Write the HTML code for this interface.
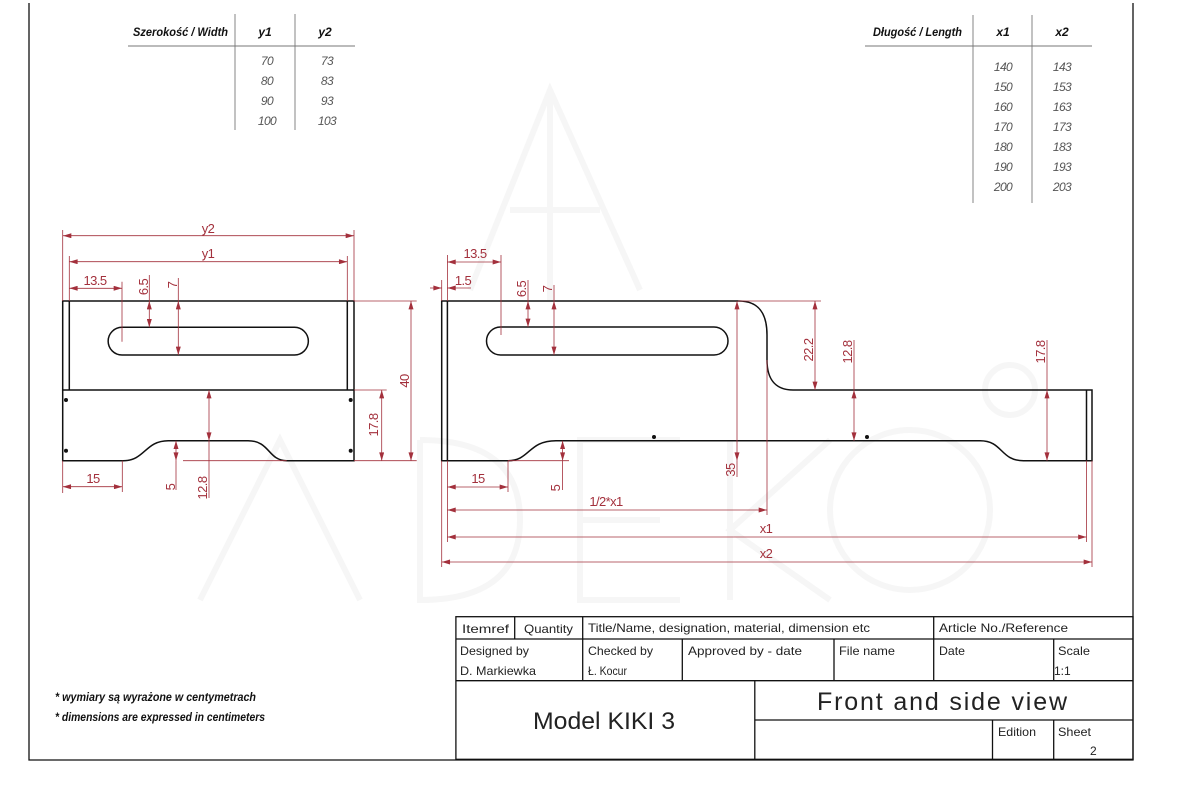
<!DOCTYPE html>
<html><head><meta charset="utf-8"><style>
html,body{margin:0;padding:0;background:#fff;}
svg{display:block;}
text{font-family:"Liberation Sans Narrow","Liberation Sans",sans-serif;}
.d{stroke:#a3303c;stroke-width:0.8;fill:none;}
.dt{fill:#a3303c;font-size:13px;letter-spacing:-0.6px;}
.o{stroke:#111;stroke-width:1.5;fill:none;}
.tb{stroke:#111;stroke-width:1.3;fill:none;}
.t{fill:#222;font-size:12px;}
.hd{font-style:italic;font-weight:bold;font-size:12px;fill:#111;}
.v{font-style:italic;font-size:12px;fill:#555;letter-spacing:-0.6px;}
.g{stroke:#777;stroke-width:0.9;}
</style></head><body>
<svg width="1200" height="800" viewBox="0 0 1200 800" xmlns="http://www.w3.org/2000/svg">
<defs>
<marker id="a" viewBox="0 0 10 6" refX="10" refY="3" markerWidth="9" markerHeight="5" orient="auto-start-reverse" markerUnits="userSpaceOnUse"><path d="M0,0 L10,3 L0,6 z" fill="#a3303c"/></marker>
</defs>
<rect x="0" y="0" width="1200" height="800" fill="#fff"/>
<!-- watermark -->
<g fill="none" stroke="#f6f6f6" stroke-width="6">
<path d="M470,290 L550,90 L640,290 M510,210 L600,210 M550,90 L550,300"/>
<path d="M200,600 L280,440 L360,600 M420,440 L420,600 Q520,600 520,520 Q520,440 420,440 M680,440 L580,440 L580,600 L680,600 M580,520 L660,520 M730,440 L730,600 M830,440 L730,530 L830,600"/>
<circle cx="910" cy="510" r="80"/><circle cx="1010" cy="390" r="25"/>
</g>
<!-- frame -->
<path d="M29,3 L29,760 L1133,760 L1133,3" class="tb"/>
<!-- width table -->
<text x="133" y="36" class="hd" textLength="95" lengthAdjust="spacingAndGlyphs">Szerokość / Width</text>
<text x="265" y="36" class="hd" text-anchor="middle">y1</text>
<text x="325" y="36" class="hd" text-anchor="middle">y2</text>
<line x1="128" y1="46" x2="355" y2="46" class="g"/>
<line x1="235" y1="14" x2="235" y2="130" class="g"/>
<line x1="295" y1="14" x2="295" y2="130" class="g"/>
<g class="v" text-anchor="middle">
<text x="267" y="65">70</text><text x="327" y="65">73</text>
<text x="267" y="85">80</text><text x="327" y="85">83</text>
<text x="267" y="105">90</text><text x="327" y="105">93</text>
<text x="267" y="125">100</text><text x="327" y="125">103</text>
</g>
<!-- length table -->
<text x="873" y="36" class="hd" textLength="89" lengthAdjust="spacingAndGlyphs">Długość / Length</text>
<text x="1003" y="36" class="hd" text-anchor="middle">x1</text>
<text x="1062" y="36" class="hd" text-anchor="middle">x2</text>
<line x1="865" y1="46" x2="1092" y2="46" class="g"/>
<line x1="973" y1="15" x2="973" y2="203" class="g"/>
<line x1="1032" y1="15" x2="1032" y2="203" class="g"/>
<g class="v" text-anchor="middle">
<text x="1003" y="71">140</text><text x="1062" y="71">143</text>
<text x="1003" y="91">150</text><text x="1062" y="91">153</text>
<text x="1003" y="111">160</text><text x="1062" y="111">163</text>
<text x="1003" y="131">170</text><text x="1062" y="131">173</text>
<text x="1003" y="151">180</text><text x="1062" y="151">183</text>
<text x="1003" y="171">190</text><text x="1062" y="171">193</text>
<text x="1003" y="191">200</text><text x="1062" y="191">203</text>
</g>

<!-- FRONT VIEW -->
<g class="o">
<rect x="62.7" y="301" width="291.3" height="89"/>
<line x1="69.3" y1="301" x2="69.3" y2="390"/>
<line x1="347.3" y1="301" x2="347.3" y2="390"/>
<path d="M62.7,390 L62.7,460.7 L123.3,460.7 C145,460.7 145,440.7 168.3,440.7 L248,440.7 C270,440.7 268,460.7 286.7,460.7 L354,460.7 L354,390"/>
<path d="M122,327.3 L294.5,327.3 A13.85,13.85 0 0 1 294.5,355 L122,355 A13.85,13.85 0 0 1 122,327.3 Z"/>
</g>
<g fill="#111"><circle cx="66" cy="400" r="2"/><circle cx="66" cy="450.7" r="2"/><circle cx="350.7" cy="400" r="2"/><circle cx="350.7" cy="450.7" r="2"/></g>
<g class="d">
<line x1="62.7" y1="230" x2="62.7" y2="301"/><line x1="354" y1="230" x2="354" y2="301"/>
<line x1="63" y1="235.7" x2="354" y2="235.7" marker-start="url(#a)" marker-end="url(#a)"/>
<line x1="69.3" y1="256" x2="69.3" y2="301"/><line x1="347.3" y1="256" x2="347.3" y2="301"/>
<line x1="69.3" y1="261.7" x2="347.3" y2="261.7" marker-start="url(#a)" marker-end="url(#a)"/>
<line x1="122" y1="281.7" x2="122" y2="341.7"/>
<line x1="69.3" y1="288.3" x2="122" y2="288.3" marker-start="url(#a)" marker-end="url(#a)"/>
<line x1="149.3" y1="275" x2="149.3" y2="301"/>
<line x1="149.3" y1="301" x2="149.3" y2="327.3" marker-start="url(#a)" marker-end="url(#a)"/>
<line x1="178.3" y1="278" x2="178.3" y2="301"/>
<line x1="178.3" y1="301" x2="178.3" y2="355" marker-start="url(#a)" marker-end="url(#a)"/>
<line x1="354" y1="301" x2="416.7" y2="301"/><line x1="354" y1="460.7" x2="416.7" y2="460.7"/>
<line x1="411" y1="301" x2="411" y2="460.7" marker-start="url(#a)" marker-end="url(#a)"/>
<line x1="354" y1="390" x2="386.7" y2="390"/>
<line x1="381.7" y1="390" x2="381.7" y2="460.7" marker-start="url(#a)" marker-end="url(#a)"/>
<line x1="209" y1="390" x2="209" y2="440.7" marker-start="url(#a)" marker-end="url(#a)"/>
<line x1="209" y1="440.7" x2="209" y2="498"/>
<line x1="176" y1="440.7" x2="176" y2="460.7" marker-start="url(#a)" marker-end="url(#a)"/>
<line x1="176" y1="460.7" x2="176" y2="490"/>
<line x1="286.7" y1="460.7" x2="183" y2="460.7"/>
<line x1="62.7" y1="460.7" x2="62.7" y2="493"/><line x1="122.3" y1="460.7" x2="122.3" y2="492"/>
<line x1="62.7" y1="486.7" x2="122.3" y2="486.7" marker-start="url(#a)" marker-end="url(#a)"/>
</g>
<g class="dt">
<text x="208" y="233" text-anchor="middle">y2</text>
<text x="208" y="258" text-anchor="middle">y1</text>
<text x="95" y="285" text-anchor="middle">13.5</text>
<text transform="translate(148,287) rotate(-90)" text-anchor="middle">6.5</text>
<text transform="translate(177,285) rotate(-90)" text-anchor="middle">7</text>
<text transform="translate(409,381) rotate(-90)" text-anchor="middle">40</text>
<text transform="translate(378,425) rotate(-90)" text-anchor="middle">17.8</text>
<text transform="translate(207,488) rotate(-90)" text-anchor="middle">12.8</text>
<text transform="translate(175,487) rotate(-90)" text-anchor="middle">5</text>
<text x="93" y="483" text-anchor="middle">15</text>
</g>

<!-- SIDE VIEW -->
<g class="o">
<path d="M441.7,301 L738.7,301 C760,301 767,315 767,335 L767,360 C767,382 778,390 793,390 L1092,390 L1092,460.7 L1023.5,460.7 C1000,460.7 1003,440.7 980,440.7 L556,440.7 C528,440.7 530,460.7 508,460.7 L441.7,460.7 Z"/>
<line x1="447.4" y1="301" x2="447.4" y2="460.7"/>
<line x1="1086.5" y1="390" x2="1086.5" y2="460.7"/>
<path d="M500.5,327 L714,327 A14,14 0 0 1 714,355 L500.5,355 A14,14 0 0 1 500.5,327 Z"/>
</g>
<g fill="#111"><circle cx="654" cy="437" r="2"/><circle cx="867" cy="437" r="2"/></g>
<g class="d">
<line x1="447.4" y1="255" x2="447.4" y2="301"/><line x1="501" y1="255" x2="501" y2="335"/>
<line x1="447.4" y1="262" x2="501" y2="262" marker-start="url(#a)" marker-end="url(#a)"/>
<line x1="441.7" y1="280" x2="441.7" y2="301"/>
<line x1="430" y1="288" x2="441.7" y2="288" marker-end="url(#a)"/>
<line x1="447.4" y1="288" x2="471" y2="288" marker-start="url(#a)"/>
<line x1="528" y1="280" x2="528" y2="301"/>
<line x1="528" y1="301" x2="528" y2="327" marker-start="url(#a)" marker-end="url(#a)"/>
<line x1="554" y1="285" x2="554" y2="301"/>
<line x1="554" y1="301" x2="554" y2="355" marker-start="url(#a)" marker-end="url(#a)"/>
<line x1="737" y1="301" x2="737" y2="460.7" marker-start="url(#a)" marker-end="url(#a)"/>
<line x1="737" y1="460.7" x2="737" y2="477"/>
<line x1="738" y1="301" x2="821" y2="301"/>
<line x1="815" y1="301" x2="815" y2="390" marker-start="url(#a)" marker-end="url(#a)"/>
<line x1="854" y1="340" x2="854" y2="390"/>
<line x1="854" y1="390" x2="854" y2="440.7" marker-start="url(#a)" marker-end="url(#a)"/>
<line x1="1047" y1="340" x2="1047" y2="390"/>
<line x1="1047" y1="390" x2="1047" y2="460.7" marker-start="url(#a)" marker-end="url(#a)"/>
<line x1="562.6" y1="440.7" x2="562.6" y2="460.7" marker-start="url(#a)" marker-end="url(#a)"/>
<line x1="562.6" y1="460.7" x2="562.6" y2="490"/>
<line x1="508" y1="460.7" x2="569" y2="460.7"/>
<line x1="508" y1="460.7" x2="508" y2="492"/>
<line x1="447.4" y1="487" x2="508" y2="487" marker-start="url(#a)" marker-end="url(#a)"/>
<line x1="767" y1="360" x2="767" y2="515"/>
<line x1="447.4" y1="510" x2="767" y2="510" marker-start="url(#a)" marker-end="url(#a)"/>
<line x1="447.4" y1="460.7" x2="447.4" y2="542"/><line x1="1086.5" y1="460.7" x2="1086.5" y2="542"/>
<line x1="447.4" y1="537" x2="1086.5" y2="537" marker-start="url(#a)" marker-end="url(#a)"/>
<line x1="441.7" y1="460.7" x2="441.7" y2="567"/><line x1="1092" y1="460.7" x2="1092" y2="567"/>
<line x1="441.7" y1="562" x2="1092" y2="562" marker-start="url(#a)" marker-end="url(#a)"/>
</g>
<g class="dt">
<text x="475" y="258" text-anchor="middle">13.5</text>
<text x="463" y="285" text-anchor="middle">1.5</text>
<text transform="translate(526,289) rotate(-90)" text-anchor="middle">6.5</text>
<text transform="translate(552,289) rotate(-90)" text-anchor="middle">7</text>
<text transform="translate(735,470) rotate(-90)" text-anchor="middle">35</text>
<text transform="translate(813,350) rotate(-90)" text-anchor="middle">22.2</text>
<text transform="translate(852,352) rotate(-90)" text-anchor="middle">12.8</text>
<text transform="translate(1045,352) rotate(-90)" text-anchor="middle">17.8</text>
<text transform="translate(560,488) rotate(-90)" text-anchor="middle">5</text>
<text x="478" y="483" text-anchor="middle">15</text>
<text x="606" y="506" text-anchor="middle">1/2*x1</text>
<text x="766" y="533" text-anchor="middle">x1</text>
<text x="766" y="558" text-anchor="middle">x2</text>
</g>

<!-- notes -->
<text x="55" y="701" class="hd" style="font-size:12px" textLength="201" lengthAdjust="spacingAndGlyphs">* wymiary są wyrażone w centymetrach</text>
<text x="55" y="721" class="hd" style="font-size:12px" textLength="210" lengthAdjust="spacingAndGlyphs">* dimensions are expressed in centimeters</text>

<!-- title block -->
<g class="tb">
<rect x="455.9" y="616.7" width="677.1" height="142.6"/>
<line x1="455.9" y1="639" x2="1133" y2="639"/>
<line x1="455.9" y1="680.7" x2="1133" y2="680.7"/>
<line x1="754.8" y1="720" x2="1133" y2="720"/>
<line x1="514.7" y1="616.7" x2="514.7" y2="639"/>
<line x1="582.7" y1="616.7" x2="582.7" y2="680.7"/>
<line x1="933.7" y1="616.7" x2="933.7" y2="680.7"/>
<line x1="682.3" y1="639" x2="682.3" y2="680.7"/>
<line x1="834" y1="639" x2="834" y2="680.7"/>
<line x1="1053.7" y1="639" x2="1053.7" y2="680.7"/>
<line x1="754.8" y1="680.7" x2="754.8" y2="759.3"/>
<line x1="992.5" y1="720" x2="992.5" y2="759.3"/>
<line x1="1053.7" y1="720" x2="1053.7" y2="759.3"/>
</g>
<g class="t">
<text x="462" y="633" textLength="47" lengthAdjust="spacingAndGlyphs">Itemref</text>
<text x="524" y="633" textLength="49" lengthAdjust="spacingAndGlyphs">Quantity</text>
<text x="588" y="632" textLength="282" lengthAdjust="spacingAndGlyphs">Title/Name, designation, material, dimension etc</text>
<text x="939" y="632" textLength="129" lengthAdjust="spacingAndGlyphs">Article No./Reference</text>
<text x="460" y="655" textLength="69" lengthAdjust="spacingAndGlyphs">Designed by</text>
<text x="460" y="675" textLength="76" lengthAdjust="spacingAndGlyphs">D. Markiewka</text>
<text x="588" y="655" textLength="65" lengthAdjust="spacingAndGlyphs">Checked by</text>
<text x="588" y="675" textLength="39" lengthAdjust="spacingAndGlyphs">Ł. Kocur</text>
<text x="688" y="655" textLength="114" lengthAdjust="spacingAndGlyphs">Approved by - date</text>
<text x="839" y="655" textLength="56" lengthAdjust="spacingAndGlyphs">File name</text>
<text x="939" y="655" textLength="26" lengthAdjust="spacingAndGlyphs">Date</text>
<text x="1058" y="655" textLength="32" lengthAdjust="spacingAndGlyphs">Scale</text>
<text x="1054" y="675" style="font-size:12px">1:1</text>
<text x="533" y="729" style="font-size:24px" textLength="142" lengthAdjust="spacingAndGlyphs">Model KIKI 3</text>
<text x="817" y="710" style="font-size:25px" textLength="250" lengthAdjust="spacing">Front and  side  view</text>
<text x="998" y="736" style="font-size:12px" textLength="38" lengthAdjust="spacingAndGlyphs">Edition</text>
<text x="1058" y="736" textLength="33" lengthAdjust="spacingAndGlyphs">Sheet</text>
<text x="1090" y="755" style="font-size:12px">2</text>
</g>
</svg>
</body></html>
